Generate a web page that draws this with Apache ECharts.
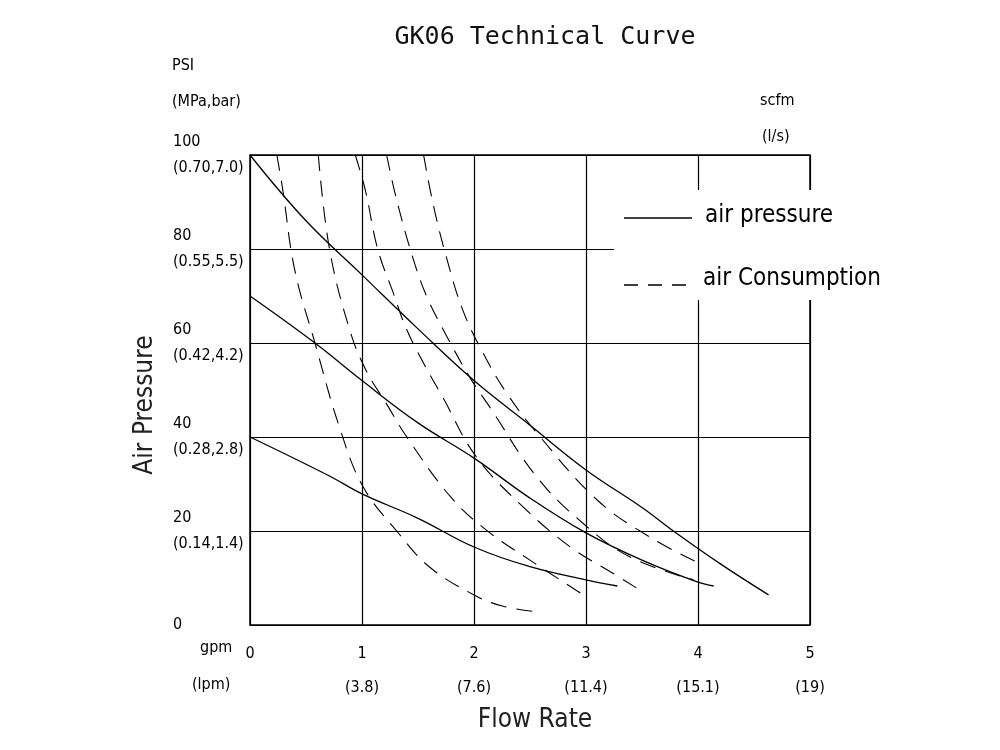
<!DOCTYPE html><html><head><meta charset="utf-8"><script src="https://cdn.jsdelivr.net/npm/echarts@6/dist/echarts.min.js"></script></head><body style="margin:0"><div id="c" style="width:1000px;height:750px"></div><script>
const xTicks=['0','1\n(3.8)','2\n(7.6)','3\n(11.4)','4\n(15.1)','5\n(19)'];
const yTicks={0:'0',20:'20\n(0.14,1.4)',40:'40\n(0.28,2.8)',60:'60\n(0.42,4.2)',80:'80\n(0.55,5.5)',100:'100\n(0.70,7.0)'};
const pressHigh=[[0,100],[0.5,86],[1,74.5],[1.5,63],[2,52],[2.5,42.5],[3,33],[3.5,25],[3.78,20],[4.2,13],[4.63,6.4]];
const pressMid=[[0,70],[0.58,60],[1,52],[1.5,43],[2,35.5],[2.5,27],[3,19.6],[3.5,13.8],[4,9.1],[4.14,8.3]];
const pressLow=[[0,40],[0.71,31.7],[1,27.9],[1.5,22.7],[2,16.6],[2.5,12.4],[3,9.6],[3.28,8.3]];
const cons2=[[0.24,100],[0.29,93],[0.4,75.5],[0.58,60],[0.8,42],[1.01,29.4],[1.31,20],[1.6,12.4],[2,6.4],[2.26,4],[2.57,2.8]];
const cons3=[[0.61,100],[0.71,80],[0.89,62.8],[1.04,54],[1.22,47],[1.4,40],[1.79,27.3],[2.11,20.2],[2.5,13.8],[2.95,6.8]];
const cons4=[[0.94,100],[1.03,92.5],[1.14,80],[1.28,70.6],[1.4,62.8],[1.55,55.7],[1.72,48.5],[2.02,35.8],[2.44,25.1],[2.86,16.6],[3.24,11],[3.45,7.9]];
const cons5=[[1.22,100],[1.31,90.4],[1.46,77.7],[1.58,69.8],[1.76,61.3],[1.96,52.8],[2.14,46.4],[2.56,31.5],[2.97,21.7],[3.39,14.5],[3.96,9.6]];
const cons6=[[1.55,100],[1.64,89],[1.76,77.7],[1.9,67],[2.08,57.9],[2.29,49.4],[2.56,40.9],[3.1,26.6],[3.57,18.7],[3.97,13.6]];
const consLabels=['2\n(1.0)','3\n(1.5)','4\n(2.0)','5\n(2.5)','6\n(3.0)'];
const F='"DejaVu Sans Condensed","Liberation Sans Narrow",sans-serif';
function solid(d){return {type:'line',data:d,smooth:0.4,symbol:'none',lineStyle:{color:'#000',width:1.3}};}
function dashed(d,lab){const dd=d.map((p,i)=>i===0?{value:p,label:{show:true,position:'top',distance:8,formatter:lab,fontFamily:F,fontSize:14,color:'#000',lineHeight:22}}:p);
 return {type:'line',data:dd,smooth:0.4,symbol:'circle',symbolSize:0,showSymbol:true,itemStyle:{color:'#000',opacity:0},label:{show:false},lineStyle:{color:'#000',width:1.1,type:[16,10]}};}
const ch=echarts.init(document.getElementById('c'));
ch.setOption({animation:false,backgroundColor:'#fff',
title:{text:'GK06 Technical Curve',left:540,top:20,textAlign:'center',textStyle:{fontFamily:'"DejaVu Sans Mono",monospace',fontWeight:'normal',fontSize:25,color:'#111'}},
grid:{left:250,right:190,top:155,bottom:125,show:true,borderColor:'#000',borderWidth:1.5},
xAxis:{type:'value',min:0,max:5,interval:1,axisLine:{show:false},axisTick:{show:false},splitLine:{lineStyle:{color:'#000',width:1.2}},
 axisLabel:{formatter:v=>xTicks[v],fontFamily:F,fontSize:16,color:'#000',margin:12,lineHeight:34,verticalAlign:'top'}},
yAxis:{type:'value',min:0,max:100,interval:20,axisLine:{show:false},axisTick:{show:false},splitLine:{lineStyle:{color:'#000',width:1.2}},
 axisLabel:{formatter:v=>yTicks[v],fontFamily:F,fontSize:16,color:'#000',align:'left',margin:77,lineHeight:26}},
series:[solid(pressHigh),solid(pressMid),solid(pressLow),dashed(cons2,consLabels[0]),dashed(cons3,consLabels[1]),dashed(cons4,consLabels[2]),dashed(cons5,consLabels[3]),dashed(cons6,consLabels[4])],
graphic:[
 {type:'rect',shape:{x:614,y:190,width:262,height:110},style:{fill:'#fff'},z:10},
 {type:'line',shape:{x1:624,y1:218,x2:692,y2:218},style:{stroke:'#000',lineWidth:1.3},z:11},
 {type:'text',left:705,top:204,style:{text:'air pressure',fontFamily:F,fontSize:24,fill:'#000'},z:11},
 {type:'line',shape:{x1:624,y1:285,x2:696,y2:285},style:{stroke:'#000',lineWidth:1.3,lineDash:[14,10]},z:11},
 {type:'text',left:703,top:267,style:{text:'air Consumption',fontFamily:F,fontSize:24,fill:'#000'},z:11},
 {type:'text',left:172,top:58,style:{text:'PSI',fontFamily:F,fontSize:16,fill:'#000'}},
 {type:'text',left:172,top:94,style:{text:'(MPa,bar)',fontFamily:F,fontSize:16,fill:'#000'}},
 {type:'text',left:760,top:93,style:{text:'scfm',fontFamily:F,fontSize:16,fill:'#000'}},
 {type:'text',left:762,top:129,style:{text:'(l/s)',fontFamily:F,fontSize:16,fill:'#000'}},
 {type:'text',left:200,top:640,style:{text:'gpm',fontFamily:F,fontSize:16,fill:'#000'}},
 {type:'text',left:192,top:677,style:{text:'(lpm)',fontFamily:F,fontSize:16,fill:'#000'}},
 {type:'text',x:535,y:720,style:{text:'Flow Rate',fontFamily:F,fontSize:26,fill:'#222',align:'center',verticalAlign:'middle'}},
 {type:'text',x:145,y:405,rotation:Math.PI/2,style:{text:'Air Pressure',fontFamily:F,fontSize:26,fill:'#222',align:'center',verticalAlign:'middle'}}
]});
</script></body></html>
